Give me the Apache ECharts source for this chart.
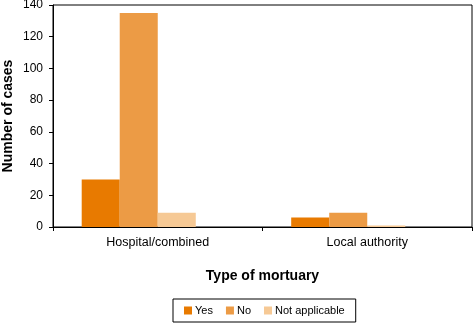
<!DOCTYPE html>
<html>
<head>
<meta charset="utf-8">
<script src="https://cdn.jsdelivr.net/npm/echarts@6/dist/echarts.min.js"></script>
<style>
  html, body { margin: 0; padding: 0; background: #fff; }
  #chart { width: 473px; height: 329px; }
</style>
</head>
<body>
<div id="chart"></div>
<script>
// Mortuary cases by type of mortuary
const categories = ['Hospital/combined', 'Local authority'];
const seriesNames = ['Yes', 'No', 'Not applicable'];
const yesValues = [30, 6];
const noValues = [135, 9];
const notApplicableValues = [9, 1];
const yTicks = { min: 0, max: 140, interval: 20 };

const colors = ['#E87A00', '#EC9B45', '#F6C995'];
const font = 'Liberation Sans, Arial, sans-serif';

const chart = echarts.init(document.getElementById('chart'), null, { renderer: 'canvas' });

const valueSets = [yesValues, noValues, notApplicableValues];
const series = valueSets.map((vals, i) => ({
  name: seriesNames[i],
  type: 'bar',
  data: vals,
  barGap: '0%',
  barCategoryGap: '27.4%',
  itemStyle: { color: colors[i] },
  silent: true
}));
// empty fourth slot keeps the three bars in the left of each group
series.push({
  name: '_blank',
  type: 'bar',
  data: categories.map(() => null),
  barGap: '0%',
  barCategoryGap: '27.4%',
  silent: true
});

chart.setOption({
  animation: false,
  backgroundColor: '#fff',
  grid: {
    left: 53, right: 1, top: 5, bottom: 102,
    show: true, borderColor: '#000', borderWidth: 1,
    containLabel: false, outerBoundsMode: 'none'
  },
  legend: {
    data: seriesNames,
    left: 173,
    top: 299,
    itemWidth: 8,
    itemHeight: 8,
    itemGap: 13,
    icon: 'rect',
    padding: [6, 11, 6, 11],
    borderColor: '#000',
    borderWidth: 1,
    borderRadius: 0,
    textStyle: { fontFamily: font, fontSize: 11, color: '#000', padding: [0, 0, 0, -2] }
  },
  xAxis: {
    type: 'category',
    data: categories,
    name: 'Type of mortuary',
    nameLocation: 'middle',
    nameGap: 42,
    nameMoveOverlap: false,
    nameTextStyle: { fontFamily: font, fontSize: 14, fontWeight: 'bold', color: '#000' },
    axisLine: { lineStyle: { color: '#000', width: 1 } },
    axisTick: { show: true, length: 4, lineStyle: { color: '#000' } },
    axisLabel: { fontFamily: font, fontSize: 12.5, color: '#000', margin: 9 },
    splitLine: { show: false }
  },
  yAxis: {
    type: 'value',
    min: yTicks.min,
    max: yTicks.max,
    interval: yTicks.interval,
    name: 'Number of cases',
    nameLocation: 'middle',
    nameGap: 38,
    nameMoveOverlap: false,
    nameTextStyle: { fontFamily: font, fontSize: 14, fontWeight: 'bold', color: '#000' },
    axisLine: { show: true, lineStyle: { color: '#000', width: 1 } },
    axisTick: { show: true, length: 4, lineStyle: { color: '#000' } },
    axisLabel: { fontFamily: font, fontSize: 12, color: '#000', margin: 10 },
    splitLine: { show: false }
  },
  series: series
});
</script>
</body>
</html>
